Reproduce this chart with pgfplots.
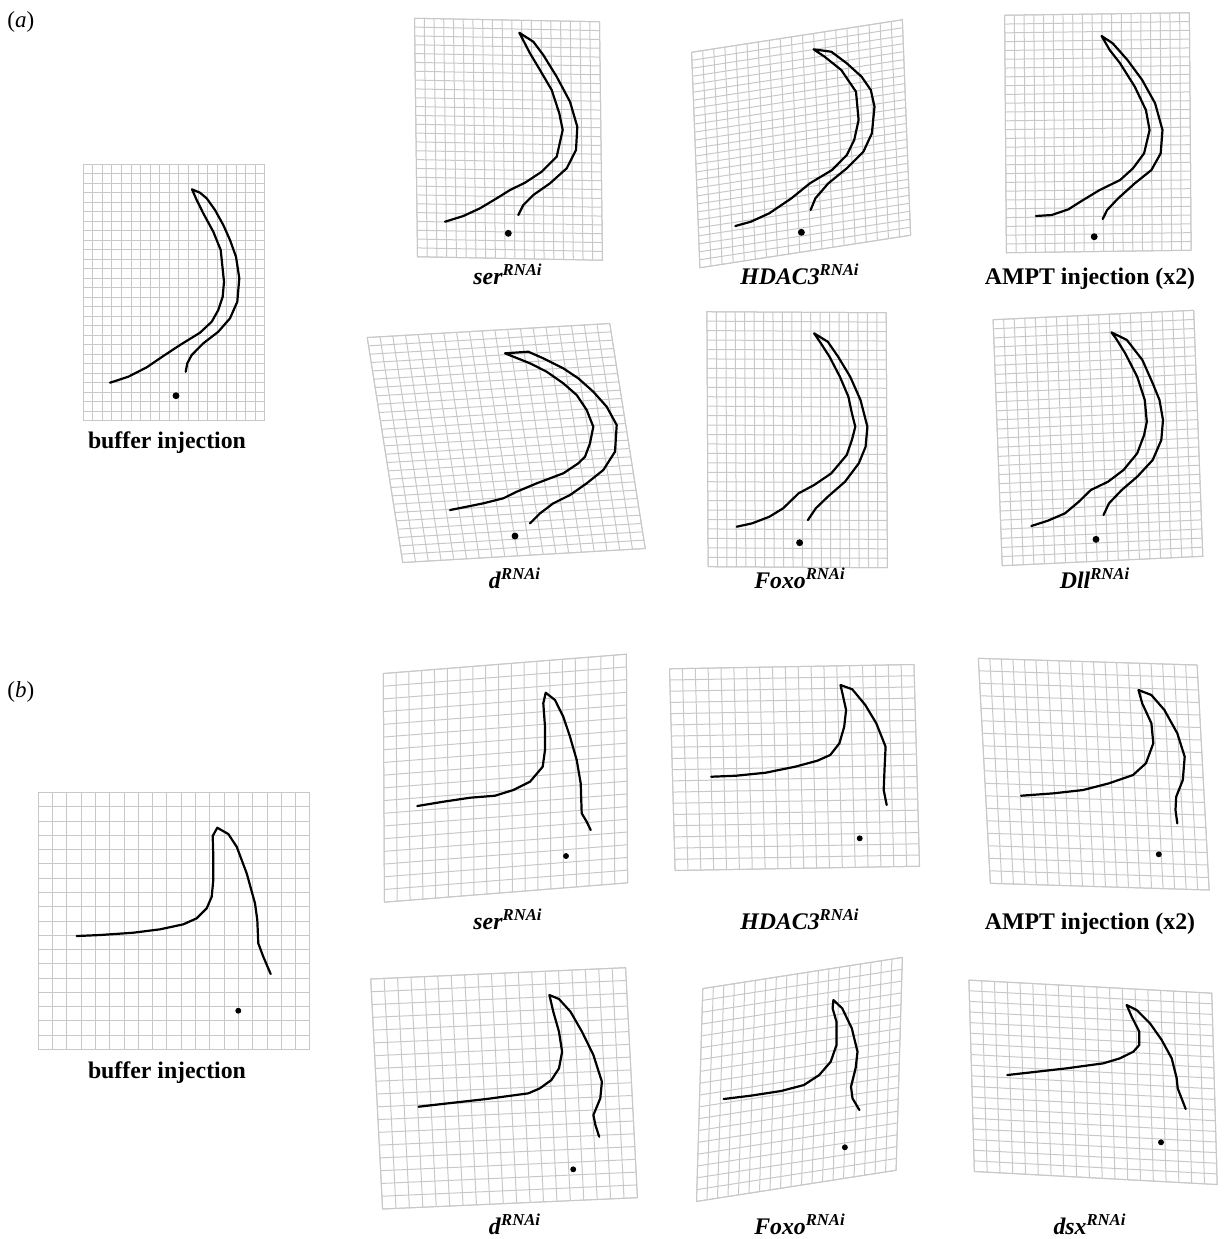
\documentclass[border=0pt]{standalone}
\usepackage{fontspec}
\setmainfont{Liberation Serif}
\usepackage{pgfplots}
\pgfplotsset{compat=1.18}
\definecolor{gridc}{RGB}{200,200,200}

\pgfplotsset{gridax/.style={
  anchor=origin, xmin=0, ymin=0,
  axis line style={gridc, line width=0.5pt},
  grid=major, major grid style={gridc, line width=0.5pt},
  xticklabels={}, yticklabels={}, major tick length=0pt,
  clip=false},
  curve/.style={black, solid, no markers, line width=1.1pt, line join=round, line cap=round},
  dots/.style={black, only marks, mark=*}}
\tikzset{lab/.style={anchor=base, inner sep=0pt, font=\fontsize{11.9}{13}\selectfont\bfseries}}

% ox oy : origin (bottom-left corner) in pixels (y down)
% xx xy : one cell along the grid's x direction, pixels
% yx yy : one cell along the grid's y direction, pixels
% ncol nrow
\newcommand{\G}[8]{%
  \pgfmathsetmacro\gxx{0.5*#3}\pgfmathsetmacro\gxy{-0.5*#4}%
  \pgfmathsetmacro\gyx{0.5*#5}\pgfmathsetmacro\gyy{-0.5*#6}%
  \pgfmathsetmacro\gox{0.5*#1}\pgfmathsetmacro\goy{-0.5*#2}%
  \begin{axis}[gridax, at={(\gox pt,\goy pt)},
     x={(\gxx pt,\gxy pt)}, y={(\gyx pt,\gyy pt)},
     xmax=#7, ymax=#8, xtick={0,...,#7}, ytick={0,...,#8}]
  \end{axis}}

\newcommand{\rnai}[1]{\textit{#1}\textsuperscript{\textit{RNAi}}}

\begin{document}
\begin{tikzpicture}
\path (0,0) rectangle (609.5pt,-619.5pt);
% ---------------- grids (a)
\G{83.3}{420.7}{9.563}{0}{0}{-9.496}{19}{27}
\G{417.5}{256.75}{9.737}{0.184}{-0.111}{-8.833}{19}{27}
\G{699.875}{267.75}{11.092}{-1.711}{-0.306}{-7.981}{19}{27}
\G{1006.375}{252.75}{9.724}{-0.132}{-0.0648}{-8.796}{19}{27}
\G{402.75}{562.5}{12.763}{-0.737}{-1.315}{-8.333}{19}{27}
\G{708.1}{566.7}{9.437}{0.0526}{-0.0444}{-9.444}{19}{27}
\G{1002.2}{565.7}{10.558}{-0.495}{-0.337}{-9.111}{19}{27}
% ---------------- grids (b)
\G{38.3}{1049.3}{14.3}{0}{0}{-14.256}{19}{18}
\G{384.425}{902.175}{12.797}{-1.018}{-0.0639}{-12.703}{19}{18}
\G{675.075}{870.5}{12.866}{-0.226}{-0.308}{-11.206}{19}{18}
\G{990.35}{883.3}{11.516}{0.353}{-0.667}{-12.5}{19}{18}
\G{382.575}{1209}{13.413}{-0.595}{-0.658}{-12.778}{19}{18}
\G{696.5}{1201.425}{10.505}{-1.639}{0.35}{-11.825}{19}{18}
\G{974.375}{1171.475}{12.782}{0.687}{-0.303}{-10.631}{19}{18}

\begin{axis}[at={(0,0)}, anchor=north west, x=0.5pt, y=0.5pt, y dir=reverse,
  xmin=0, xmax=1219, ymin=0, ymax=1239, hide axis, clip=false]
% (a) buffer
\addplot[curve] coordinates {(110.0,382.7) (128.3,376.7) (146.7,367.3) (163.3,356) (180,345) (200,332.7) (211.7,321.7) (218.3,310) (222.7,296.7) (224,281.7) (220.7,250) (213.3,231.7) (203.3,213.3) (196.7,200) (192,189.3) (200,192.7) (206.7,198.3) (215,210) (223.3,225) (230,240) (236,256.7) (239.3,278.3) (237.3,301.7) (230,318.3) (218.3,331.7) (203.3,343.3) (191.7,355) (187.3,363.3) (185.7,371.7)};
% (a) ser
\addplot[curve] coordinates {(445,221.7) (463.3,216) (480,208.3) (496.7,198.3) (510,190) (525,182.7) (541.7,171.7) (556.7,156.7) (562.7,130) (559.3,113.3) (551.7,90) (540,70) (530,53.3) (519.3,32.7) (533.3,41.7) (543.3,55) (556.7,76.7) (570,101.7) (577.3,126.7) (576,150) (566.7,168.3) (550,183.3) (533.3,195) (523.3,205) (518.3,215)};
% (a) HDAC3
\addplot[curve] coordinates {(735.3,226) (750.8,221.7) (769.2,213.3) (791.4,198.3) (809.9,183.3) (832,170) (846.8,155) (854.2,140) (858.6,120) (856,91.7) (841.3,70) (824.6,56.7) (813.6,49.3) (831.3,51.7) (846.8,63.3) (861.6,76.7) (870.8,90) (874.5,106.7) (871.9,133.3) (863.4,151.7) (846.8,168.3) (828.3,183.3) (815.4,198.3) (810.6,210)};
% (a) AMPT
\addplot[curve] coordinates {(1035.9,216) (1051.7,215) (1068.4,209.3) (1083.1,200) (1099.7,190) (1120.1,180) (1133,168.3) (1144.1,153.3) (1149.6,130) (1145.9,110) (1134.8,86.7) (1120.1,63.3) (1109.7,50) (1101.6,36) (1112.7,43.3) (1127.5,60) (1142.2,80) (1155.1,103.3) (1162.5,130) (1160.7,153.3) (1151.4,170) (1134.8,183.3) (1118.2,198.3) (1107.1,210) (1102.7,219)};
% (a) d
\addplot[curve] coordinates {(450,510) (466.7,506.7) (483.3,503.3) (503.3,498.3) (516.7,491.7) (536.7,483.3) (563.3,473.3) (578.3,463.3) (585,456.7) (590,443.3) (593.3,426.7) (586.7,410) (576.7,395) (563.3,383.3) (546.7,371.7) (530,363.3) (505,353.3) (528.3,351.7) (543.3,358.3) (563.3,368.3) (578.3,378.3) (593.3,391.7) (606.7,406.7) (616.7,425) (615,451.7) (603.3,470) (586.7,483.3) (570,495) (553.3,503.3) (540,513.3) (530,523.3)};
% (a) Foxo
\addplot[curve] coordinates {(736.7,526.7) (752.2,523.3) (769.4,516.7) (783.1,508.3) (798.6,493.3) (814.1,485) (831.3,473.3) (846.7,455) (851.9,440) (855.3,426.7) (851.9,413.3) (848.4,396.7) (839.9,376.7) (829.5,356.7) (820.9,343.3) (814.1,333.3) (827.8,341.7) (838.1,356.7) (850.2,376.7) (860.5,400) (867.4,426.7) (865.6,446.7) (858.8,463.3) (845,481.7) (827.8,496.7) (815.8,508.3) (807.9,520)};
% (a) Dll
\addplot[curve] coordinates {(1031.3,526) (1047.8,520.7) (1065,513.3) (1078.8,501.7) (1090.8,490) (1108,481.7) (1123.5,470) (1137.2,453.3) (1144.1,435) (1146.8,421.7) (1144.8,400) (1137.2,376.7) (1125.2,353.3) (1115.9,338.3) (1111.4,332.3) (1126.9,340) (1142.4,360) (1152.7,383.3) (1159.5,400) (1163,420) (1161.3,440) (1152.7,460) (1137.2,476.7) (1121.7,490) (1109,503.3) (1103.5,515)};
\addplot[dots, mark size=1.5pt] coordinates {(176,395.7) (508.3,233.3) (801.4,232.3) (1094.2,236.7) (515,536) (799.6,542.7) (1096,539.3)};
% (b) buffer
\addplot[curve] coordinates {(76.7,936) (100,935) (133.3,932.7) (160,929.3) (183.3,924.3) (196.7,918.3) (206.7,908.3) (211.7,896.7) (213.3,880) (213.3,856.7) (212.7,836) (217.3,827.7) (228.3,834) (236.7,846.7) (246.7,873.3) (255,903.3) (257.3,920) (258.3,943.3) (263.3,956.7) (270.7,974)};
% (b) ser
\addplot[curve] coordinates {(417.3,806) (443.3,801.7) (470,797.7) (495,795.7) (513.3,790) (530,781.7) (542.7,766.7) (545,750) (545,726.7) (543.3,703.3) (545.7,692.7) (555,700) (563.3,716.7) (570,736.7) (576.7,760) (580.7,783.3) (581.7,813.3) (586.7,821.7) (590.7,830)};
% (b) HDAC3
\addplot[curve] coordinates {(711.3,776.7) (736,775.7) (765.6,772.7) (795.1,766.7) (817.3,760.7) (830.2,755) (839.4,743.3) (844.2,726.7) (846.1,710) (842.4,693.3) (840.5,685) (852.3,689.3) (865.3,705) (876.3,723.3) (885.6,746.7) (884.5,770) (883.7,790) (886.7,805)};
% (b) AMPT
\addplot[curve] coordinates {(1021.1,795.7) (1053.6,793.3) (1083.1,790) (1109,783.3) (1133,775) (1145.9,763.3) (1153.3,743.3) (1151.4,723.3) (1142.2,703.3) (1138.5,690) (1151.4,695) (1164.4,710) (1177.3,733.3) (1184.7,756.7) (1182.8,780) (1176.2,796.7) (1175.5,810) (1177.3,823.3)};
% (b) d
\addplot[curve] coordinates {(418.6,1106.7) (448,1103.3) (486.3,1099) (528.4,1093.3) (539.9,1088.3) (551.4,1080) (559,1068.3) (562.1,1051.7) (559,1031.7) (553.3,1011.7) (549.4,995) (559,999) (570.5,1011.7) (582,1031.7) (593.4,1055) (601.9,1081.7) (600.3,1098.3) (593.4,1115) (595.4,1125) (599.2,1136.7)};
% (b) Foxo
\addplot[curve] coordinates {(723.6,1099) (750.4,1095.7) (781,1091) (803.9,1085) (819.2,1075) (830.7,1061.7) (836.5,1045) (836.5,1021.7) (832.6,1008.3) (833.4,1000) (842.2,1008.3) (851.8,1028.3) (857.5,1051.7) (855.6,1068.3) (851,1086.7) (852.5,1098.3) (859.4,1110)};
% (b) dsx
\addplot[curve] coordinates {(1007.3,1075) (1036.7,1071.7) (1066.7,1068.3) (1103.3,1063.3) (1120,1058.3) (1133.3,1051.7) (1139.3,1045) (1139.3,1031.7) (1131.7,1016.7) (1126.7,1005) (1136.7,1010) (1150,1023.3) (1161.7,1040) (1171.7,1058.3) (1176.7,1078.3) (1177.7,1088.3) (1185.7,1109)};
\addplot[dots, mark size=1.25pt] coordinates {(238.3,1010.7) (566,856) (859.7,838.3) (1158.8,854.3) (573.2,1169.3) (844.9,1147.3) (1161,1142.3)};
% labels
\node[anchor=base west, inner sep=0pt, font=\fontsize{11.5}{13}\selectfont] at (axis cs:7,27) {(\textit{a})};
\node[anchor=base west, inner sep=0pt, font=\fontsize{11.5}{13}\selectfont] at (axis cs:7,697) {(\textit{b})};
\node[lab] at (axis cs:167,448) {buffer injection};
\node[lab] at (axis cs:508,284) {\rnai{ser}};
\node[lab] at (axis cs:800,284) {\rnai{HDAC3}};
\node[lab] at (axis cs:1090,284) {AMPT injection (x2)};
\node[lab] at (axis cs:515,588) {\rnai{d}};
\node[lab] at (axis cs:800,588) {\rnai{Foxo}};
\node[lab] at (axis cs:1095,588) {\rnai{Dll}};
\node[lab] at (axis cs:167,1078) {buffer injection};
\node[lab] at (axis cs:508,929) {\rnai{ser}};
\node[lab] at (axis cs:800,929) {\rnai{HDAC3}};
\node[lab] at (axis cs:1090,929) {AMPT injection (x2)};
\node[lab] at (axis cs:515,1234) {\rnai{d}};
\node[lab] at (axis cs:800,1234) {\rnai{Foxo}};
\node[lab] at (axis cs:1090,1234) {\rnai{dsx}};
\end{axis}
\end{tikzpicture}
\end{document}
